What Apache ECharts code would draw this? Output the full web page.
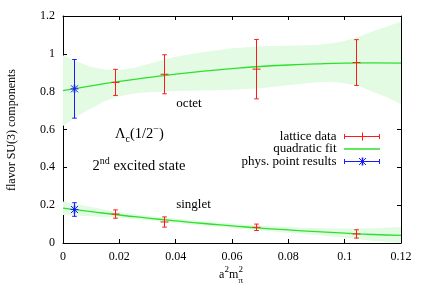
<!DOCTYPE html>
<html><head><meta charset="utf-8">
<script src="https://cdn.jsdelivr.net/npm/echarts@6/dist/echarts.min.js"></script>
<style>html,body{margin:0;padding:0;background:#fff}#c{width:425px;height:298px}</style>
</head><body><div id="c"></div>
<script>
// ---- tick labels ----
const xTickLabels = ['0', '0.02', '0.04', '0.06', '0.08', '0.1', '0.12'];
const yTickLabels = ['0', '0.2', '0.4', '0.6', '0.8', '1', '1.2'];

// ---- lattice data (x = a^2 m_pi^2) ----
const latticeX = [0.0186, 0.0357, 0.0686, 0.1040];
const octetLattice = [0.849, 0.892, 0.919, 0.954];
const octetLatticeErr = [0.069, 0.103, 0.157, 0.121];
const singletLattice = [0.153, 0.111, 0.083, 0.048];
const singletLatticeErr = [0.022, 0.027, 0.017, 0.022];

// ---- physical point results ----
const physX = [0.0038];
const octetPhys = [0.815];
const octetPhysErr = [0.155];
const singletPhys = [0.177];
const singletPhysErr = [0.036];

// ---- quadratic fit curves ----
const fitX = [0, 0.01, 0.02, 0.03, 0.04, 0.05, 0.06, 0.07, 0.08, 0.09, 0.10, 0.11, 0.12];
const octetFit = [0.805, 0.831, 0.854, 0.874, 0.893, 0.909, 0.922, 0.933, 0.941, 0.947, 0.951, 0.952, 0.951];
const singletFit = [0.184, 0.166, 0.148, 0.132, 0.117, 0.103, 0.091, 0.079, 0.069, 0.060, 0.052, 0.045, 0.040];

// ---- error bands of the fits ----
const octetBandX = [0, 0.005, 0.01, 0.015, 0.02, 0.025, 0.03, 0.035, 0.04, 0.045, 0.05, 0.06, 0.07, 0.08, 0.09, 0.095, 0.10, 0.105, 0.11, 0.115, 0.12];
const octetBandUpper = [0.993, 0.960, 0.931, 0.917, 0.914, 0.925, 0.945, 0.966, 0.985, 0.998, 1.010, 1.030, 1.040, 1.043, 1.047, 1.055, 1.068, 1.090, 1.120, 1.145, 1.170];
const octetBandLower = [0.618, 0.670, 0.711, 0.752, 0.776, 0.790, 0.797, 0.800, 0.803, 0.805, 0.806, 0.810, 0.818, 0.834, 0.850, 0.853, 0.845, 0.830, 0.800, 0.770, 0.734];
const singletBandX = [0, 0.01, 0.02, 0.03, 0.04, 0.05, 0.06, 0.07, 0.08, 0.09, 0.10, 0.11, 0.12];
const singletBandUpper = [0.220, 0.190, 0.163, 0.144, 0.129, 0.115, 0.103, 0.092, 0.084, 0.078, 0.076, 0.078, 0.085];
const singletBandLower = [0.148, 0.142, 0.133, 0.120, 0.105, 0.091, 0.079, 0.066, 0.054, 0.042, 0.028, 0.012, 0.000];

const FONT = '"Liberation Serif", "DejaVu Serif", serif';
const RED = '#ff1a1a', BLUE = '#1a1aff', GREEN = '#2ee02e', BAND = '#e2fbe2';

function bandSeries(xs, lo, hi) {
  return {
    type: 'custom', silent: true, clip: true, z: 1,
    data: xs.map((x, i) => [x, lo[i], hi[i]]),
    encode: { x: 0, y: [1, 2] },
    renderItem: function (params, api) {
      if (params.dataIndex !== 0) return;
      const pts = [];
      for (let i = 0; i < xs.length; i++) pts.push(api.coord([xs[i], hi[i]]));
      for (let i = xs.length - 1; i >= 0; i--) pts.push(api.coord([xs[i], lo[i]]));
      return { type: 'polygon', shape: { points: pts }, style: { fill: BAND } };
    }
  };
}
function fitSeries(xs, ys) {
  return {
    type: 'line', data: xs.map((x, i) => [x, ys[i]]), smooth: true, showSymbol: false,
    lineStyle: { color: GREEN, width: 1.3 }, silent: true, z: 3
  };
}
function errSeries(xs, ys, es, color, marker) {
  return {
    type: 'custom', silent: true, z: 5,
    data: xs.map((x, i) => [x, ys[i], es[i]]),
    encode: { x: 0, y: 1 },
    renderItem: function (params, api) {
      const x = api.value(0), y = api.value(1), e = api.value(2);
      const c = api.coord([x, y]);
      const t = api.coord([x, y + e]);
      const b = api.coord([x, y - e]);
      const px = Math.round(c[0]) + 0.5;
      const st = { stroke: color, lineWidth: 1 };
      const cap = 2.3;
      const ch = [
        { type: 'line', shape: { x1: px, y1: t[1], x2: px, y2: b[1] }, style: st },
        { type: 'line', shape: { x1: px - cap, y1: t[1], x2: px + cap, y2: t[1] }, style: st },
        { type: 'line', shape: { x1: px - cap, y1: b[1], x2: px + cap, y2: b[1] }, style: st },
        { type: 'line', shape: { x1: px - 4, y1: c[1], x2: px + 4, y2: c[1] }, style: st }
      ];
      if (marker === 'star') {
        ch.push({ type: 'line', shape: { x1: px - 3.5, y1: c[1] - 3.5, x2: px + 3.5, y2: c[1] + 3.5 }, style: st });
        ch.push({ type: 'line', shape: { x1: px - 3.5, y1: c[1] + 3.5, x2: px + 3.5, y2: c[1] - 3.5 }, style: st });
        ch.push({ type: 'line', shape: { x1: px, y1: c[1] - 4, x2: px, y2: c[1] + 4 }, style: { stroke: color, lineWidth: 1.6 } });
      }
      return { type: 'group', children: ch };
    }
  };
}

const axisCommon = {
  axisLine: { show: true, onZero: false, lineStyle: { color: '#000', width: 1 } },
  axisTick: { show: true, inside: true, length: 4, lineStyle: { color: '#000', width: 1 } },
  splitLine: { show: false }
};

const chart = echarts.init(document.getElementById('c'), null, { renderer: 'canvas' });

// legend rows
const legRight = 336.5, legX1 = 344, legX2 = 380, legMid = 362;
const legY = [136.5, 149, 161.5];
function legText(t, y) {
  return { type: 'text', x: legRight, y: y, style: { text: t, align: 'right', verticalAlign: 'middle', font: '13px ' + FONT, fill: '#000' } };
}
function ln(x1, y1, x2, y2, color, w) {
  return { type: 'line', shape: { x1: x1, y1: y1, x2: x2, y2: y2 }, style: { stroke: color, lineWidth: w || 1 } };
}
const legendG = [
  legText('lattice data', legY[0]), legText('quadratic fit', legY[1]), legText('phys. point results', legY[2]),
  ln(legX1, legY[0], legX2, legY[0], RED), ln(legX1 + 0.5, legY[0] - 2.5, legX1 + 0.5, legY[0] + 2.5, RED),
  ln(legX2 - 0.5, legY[0] - 2.5, legX2 - 0.5, legY[0] + 2.5, RED), ln(legMid + 0.5, legY[0] - 4, legMid + 0.5, legY[0] + 4, RED),
  ln(legX1, legY[1], legX2, legY[1], GREEN, 1.5),
  ln(legX1, legY[2], legX2, legY[2], BLUE), ln(legX1 + 0.5, legY[2] - 2.5, legX1 + 0.5, legY[2] + 2.5, BLUE),
  ln(legX2 - 0.5, legY[2] - 2.5, legX2 - 0.5, legY[2] + 2.5, BLUE),
  ln(legMid + 0.5, legY[2] - 4, legMid + 0.5, legY[2] + 4, BLUE, 1.6),
  ln(legMid - 3, legY[2] - 3.5, legMid + 4, legY[2] + 3.5, BLUE), ln(legMid - 3, legY[2] + 3.5, legMid + 4, legY[2] - 3.5, BLUE)
];

const textG = [
  { type: 'text', x: 11.5, y: 130, rotation: Math.PI / 2,
    style: { text: 'flavor SU(3) components', align: 'center', verticalAlign: 'middle', font: '12px ' + FONT, fill: '#000' } },
  { type: 'text', x: 219, y: 275, style: { text: 'a', align: 'left', verticalAlign: 'middle', font: '12px ' + FONT, fill: '#000' } },
  { type: 'text', x: 224.5, y: 269.5, style: { text: '2', align: 'left', verticalAlign: 'middle', font: '9px ' + FONT, fill: '#000' } },
  { type: 'text', x: 229, y: 275, style: { text: 'm', align: 'left', verticalAlign: 'middle', font: '12px ' + FONT, fill: '#000' } },
  { type: 'text', x: 238.5, y: 269.5, style: { text: '2', align: 'left', verticalAlign: 'middle', font: '9px ' + FONT, fill: '#000' } },
  { type: 'text', x: 238.5, y: 280.5, style: { text: 'π', align: 'left', verticalAlign: 'middle', font: '9px ' + FONT, fill: '#000' } },
  { type: 'text', x: 189, y: 104, style: { text: 'octet', align: 'center', verticalAlign: 'middle', font: '13px ' + FONT, fill: '#000' } },
  { type: 'text', x: 193.5, y: 205, style: { text: 'singlet', align: 'center', verticalAlign: 'middle', font: '13px ' + FONT, fill: '#000' } },
  { type: 'text', x: 115, y: 134,
    style: { text: '{m|Λ}{s|c}{m|(1/2}{p|−}{m|)}', align: 'left', verticalAlign: 'middle', fill: '#000',
      rich: {
        m: { font: '14.5px ' + FONT, lineHeight: 20, fill: '#000' },
        s: { font: '10px ' + FONT, lineHeight: 10, verticalAlign: 'bottom', fill: '#000' },
        p: { font: '10px ' + FONT, lineHeight: 10, verticalAlign: 'top', fill: '#000' }
      } } },
  { type: 'text', x: 92.5, y: 166,
    style: { text: '{m|2}{p|nd}{m| excited state}', align: 'left', verticalAlign: 'middle', fill: '#000',
      rich: {
        m: { font: '14.5px ' + FONT, lineHeight: 20, fill: '#000' },
        p: { font: '10px ' + FONT, lineHeight: 10, verticalAlign: 'top', fill: '#000' }
      } } }
];

chart.setOption({
  animation: false,
  backgroundColor: '#fff',
  grid: { left: 63, right: 24, top: 16, bottom: 55 },
  xAxis: [
    Object.assign({ type: 'value', min: 0, max: 0.12, interval: 0.02, position: 'bottom',
      axisLabel: { color: '#000', fontFamily: FONT, fontSize: 12, margin: 8, formatter: (v, i) => xTickLabels[i] } }, axisCommon),
    Object.assign({ type: 'value', min: 0, max: 0.12, interval: 0.02, position: 'top',
      axisLabel: { show: false } }, axisCommon)
  ],
  yAxis: [
    Object.assign({ type: 'value', min: 0, max: 1.2, interval: 0.2, position: 'left',
      axisLabel: { color: '#000', fontFamily: FONT, fontSize: 12, margin: 8, formatter: (v, i) => yTickLabels[i] } }, axisCommon),
    Object.assign({ type: 'value', min: 0, max: 1.2, interval: 0.2, position: 'right',
      axisLabel: { show: false } }, axisCommon)
  ],
  series: [
    bandSeries(octetBandX, octetBandLower, octetBandUpper),
    bandSeries(singletBandX, singletBandLower, singletBandUpper),
    fitSeries(fitX, octetFit),
    fitSeries(fitX, singletFit),
    errSeries(latticeX, octetLattice, octetLatticeErr, RED, 'plus'),
    errSeries(latticeX, singletLattice, singletLatticeErr, RED, 'plus'),
    errSeries(physX, octetPhys, octetPhysErr, BLUE, 'star'),
    errSeries(physX, singletPhys, singletPhysErr, BLUE, 'star')
  ],
  graphic: legendG.concat(textG)
});
</script>
</body></html>
